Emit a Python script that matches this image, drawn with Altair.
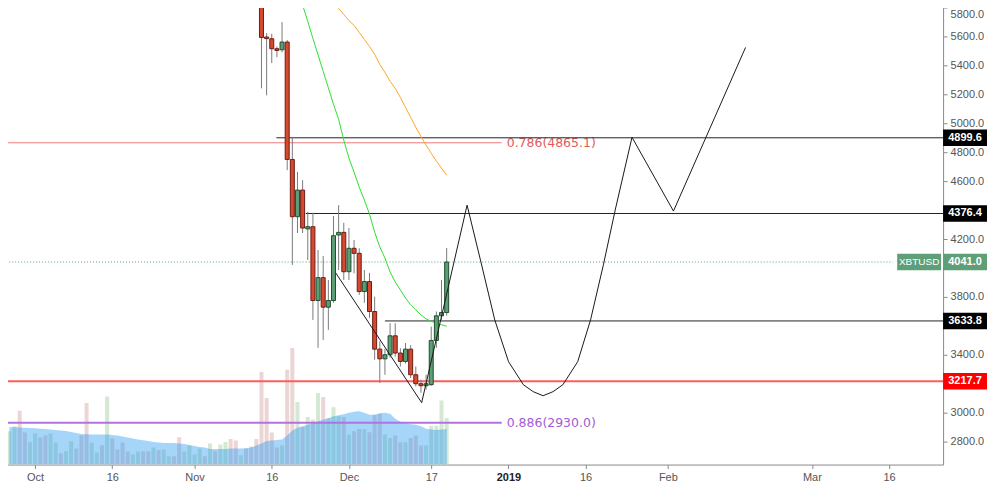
import altair as alt
import pandas as pd

BASE = pd.Timestamp("2018-10-01")


def to_days(dates):
    return [(pd.Timestamp(d) - BASE).days for d in dates]


# ---------------- data ----------------
# Daily candles XBTUSD, 14 Nov - 20 Dec 2018
candle_dates = pd.date_range("2018-11-14", "2018-12-20", freq="D").strftime("%Y-%m-%d").tolist()
open_ = [6340, 5596, 5584, 5515, 5508, 5561, 4750, 4354, 4538, 4270, 4285, 3775, 3933, 3729, 3775, 4228, 4246,
         3974, 4136, 4101, 3837, 3906, 3699, 3439, 3372, 3400, 3531, 3412, 3354, 3439, 3262, 3200, 3186, 3193, 3499, 3669, 3692]
high = [6390, 5623, 5619, 5530, 5699, 5575, 4906, 4664, 4607, 4388, 4381, 4124, 4083, 3917, 4359, 4434, 4312,
        4276, 4193, 4136, 3986, 3966, 3802, 3492, 3441, 3618, 3618, 3446, 3481, 3467, 3319, 3228, 3262, 3595, 3699, 3917, 4138]
low = [5241, 5193, 5416, 5457, 5490, 4676, 4021, 4241, 4241, 4055, 3641, 3448, 3503, 3572, 3760, 3986, 3917,
       3917, 3963, 3814, 3759, 3655, 3366, 3205, 3262, 3380, 3388, 3319, 3340, 3239, 3181, 3138, 3160, 3186, 3448, 3641, 3670]
close = [5593, 5585, 5515, 5503, 5561, 4750, 4354, 4538, 4276, 4285, 3775, 3933, 3729, 3775, 4223, 4246, 3974,
         4136, 4101, 3837, 3906, 3699, 3439, 3372, 3400, 3531, 3412, 3354, 3439, 3262, 3200, 3186, 3200, 3499, 3669, 3692, 4041]

# Volume, 26 Sep - 20 Dec 2018 (relative units)
vol_dates = pd.date_range("2018-09-26", "2018-12-20", freq="D").strftime("%Y-%m-%d").tolist()
volume = [33.3, 38.3, 54, 32, 22.3,
          31, 27, 29, 31, 22, 11.3, 13.3, 23.3, 16, 29,
          61.7, 22, 12, 19.3, 68.3, 26, 15, 22, 13, 10,
          13, 13.3, 13.3, 17, 14.3, 15, 8, 8.3, 27.3, 13, 19,
          10, 16, 8.3, 21, 13.3, 20, 22.7, 25.7, 24, 9.3,
          16, 18, 25.7, 92.7, 66.7, 32, 17, 19, 95, 116.7,
          62.7, 37.7, 47.7, 45, 71.7, 67.7, 46.7, 57.3, 48.3, 47.7,
          30, 33.3, 35.7, 35.7, 32.3, 50, 51, 30, 26.7, 29,
          22.3, 22.3, 26.7, 29, 19, 19, 39, 39, 64.3, 46.7]
volume_dir = list("UUDDU"
                  + "UDDUUDUUDD" + "DUUDUDDDDU" + "UDDUDUUDDUU"
                  + "UUDUDUUDDU" + "DDDDDDDUDD" + "UDUDUDUUUD"
                  + "UDDUDDDUUD" + "DUDDDUUUUU")
volume_ma = [37.7, 37.5, 37.2, 37, 36.7,
             36.4, 36, 35.5, 35, 34.5, 34, 33.7, 32.5, 31.5, 30.5,
             30.3, 30, 30, 30, 30, 29.5, 29, 28, 27, 26,
             25, 24.3, 23.5, 22.7, 22, 21.7, 21.5, 21.5, 21, 20.5,
             19.5, 18.5, 17.5, 17, 15.5, 15.5, 15.5, 15.7, 16, 16,
             16, 16.3, 17, 19, 21, 23.5, 24, 24.5, 25, 29,
             34, 37, 38.5, 40, 41.5, 43.3, 45, 46.5, 48.5, 49.5,
             50.5, 52, 53, 53.5, 52, 50, 50, 51.5, 52, 51,
             46, 43, 41.5, 40.5, 40, 38.5, 36, 35, 34.5, 35, 35.5]

# Moving averages
fast_ma_dates = pd.date_range("2018-11-21", "2018-12-20", freq="D").strftime("%Y-%m-%d").tolist()
fast_ma = [5931, 5817, 5703, 5586, 5472, 5359, 5245, 5131, 5028, 4883, 4759, 4662, 4559, 4469, 4372,
           4248, 4145, 4069, 3972, 3903, 3848, 3793, 3745, 3710, 3676, 3648, 3631, 3621, 3607, 3597]
slow_ma_dates = pd.date_range("2018-11-27", "2018-12-20", freq="D").strftime("%Y-%m-%d").tolist()
slow_ma = [5890, 5841, 5793, 5752, 5710, 5676, 5628, 5579, 5531, 5476, 5407, 5352, 5290, 5241, 5179,
           5110, 5041, 4972, 4910, 4848, 4793, 4738, 4690, 4641]

# Projection drawing (day offset from 1 Oct 2018, price)
proj_day = [58.45, 75.14, 83.97, 86.66, 89.35, 92.03, 94.91, 96.83, 98.75, 100.67, 102.59, 105.47,
            107.97, 110.46, 112.76, 116.03, 124.09, 138.10]
proj_price = [3965, 3069, 4434, 4041, 3641, 3352, 3193, 3145, 3117, 3145, 3193, 3352,
              3641, 4021, 4400, 4903, 4393, 5524]

# Horizontal levels
hline_price = [4899.6, 4376.4, 3633.8]
hline_start = [46.9, 52.6, 68.0]
fib_price = [4865.1, 2930.0]
fib_label = ["0.786(4865.1)", "0.886(2930.0)"]
fib_end = 90.7
support_price = 3217.7
last_price = 4041.0

# Right-axis price tags
tag_price = [4899.6, 4376.4, 4041.0, 3633.8, 3217.7]
tag_color = ["#000000", "#000000", "#5e9f78", "#000000", "#ff0000"]

# X-axis ticks
tick_dates = ["2018-10-01", "2018-10-16", "2018-11-01", "2018-11-16", "2018-12-01", "2018-12-17",
              "2019-01-01", "2019-01-16", "2019-02-01", "2019-03-01", "2019-03-16"]
tick_labels = ["Oct", "16", "Nov", "16", "Dec", "17", "2019", "16", "Feb", "Mar", "16"]
price_ticks = list(range(2800, 6000, 200))
hidden_price_ticks = [4400, 4000, 3600, 3200]   # covered by the price tags

# ---------------- frames ----------------
candles = pd.DataFrame({"day": to_days(candle_dates), "open": open_, "high": high, "low": low, "close": close})
vol_df = pd.DataFrame({"day": to_days(vol_dates), "vol": volume, "dir": volume_dir, "vma": volume_ma})
fast_df = pd.DataFrame({"day": to_days(fast_ma_dates), "ma": fast_ma})
slow_df = pd.DataFrame({"day": to_days(slow_ma_dates), "ma": slow_ma})
proj_df = pd.DataFrame({"day": proj_day, "price": proj_price, "i": list(range(len(proj_day)))})

X_LO, X_HI = -5.854, 175.53
Y_LO, Y_HI = 2641.4, 5848.3
tick_days = to_days(tick_dates)

label_expr = "''"
for v, lab in reversed(list(zip(tick_days, tick_labels))):
    label_expr = f"datum.value == {v} ? '{lab}' : {label_expr}"
year_day = tick_days[tick_labels.index("2019")]

hidden_test = " || ".join(f"datum.value == {v}" for v in hidden_price_ticks)
y_label_expr = f"({hidden_test}) ? '' : format(datum.value, '.1f')"
top_tick = max(price_ticks)

xscale = alt.Scale(domain=[X_LO, X_HI], nice=False, zero=False)
yscale = alt.Scale(domain=[Y_LO, Y_HI], nice=False, zero=False)
vscale = alt.Scale(domain=[0, 465], nice=False, zero=True)

xaxis = alt.Axis(values=tick_days, labelExpr=label_expr, title=None, grid=False, tickSize=4,
                 labelPadding=3, labelOverlap=False, labelFontSize=11, labelFont="Liberation Sans",
                 labelColor={"condition": {"test": f"datum.value == {year_day}", "value": "#222222"}, "value": "#555555"},
                 labelFontWeight={"condition": {"test": f"datum.value == {year_day}", "value": "bold"}, "value": "normal"},
                 domainColor="#8a8a8a", tickColor="#8a8a8a")
yaxis = alt.Axis(orient="right", values=price_ticks, labelExpr=y_label_expr, title=None, grid=False, tickSize=4,
                 labelPadding=3, labelFontSize=11, labelFont="Liberation Sans", labelColor="#555555",
                 labelBaseline={"condition": {"test": f"datum.value == {top_tick}", "value": "top"}, "value": "middle"},
                 labelOffset={"condition": {"test": f"datum.value == {top_tick}", "value": 1}, "value": 0},
                 domainColor="#8a8a8a", tickColor="#8a8a8a", labelOverlap=False)


def X(field):
    return alt.X(field, type="quantitative", scale=xscale, axis=xaxis)


def Y(field):
    return alt.Y(field, type="quantitative", scale=yscale, axis=yaxis)


# ---------------- volume pane ----------------
vol_bars = alt.Chart(vol_df).mark_bar(size=4, clip=True).encode(
    x=X("day"),
    y=alt.Y("vol:Q", scale=vscale, axis=None),
    color=alt.condition("datum.dir == 'U'", alt.value("#d3e9d3"), alt.value("#ecd5d5")),
)
vol_ma = alt.Chart(vol_df).mark_area(color="#2196f3", opacity=0.4, clip=True).encode(
    x=X("day"),
    y=alt.Y("vma:Q", scale=vscale, axis=None),
)
volume_layer = alt.layer(vol_bars, vol_ma)

# ---------------- price pane ----------------
layers = []

fib_df = pd.DataFrame({"price": fib_price, "label": fib_label, "x0": [X_LO - 5] * 2, "x1": [fib_end] * 2})
layers.append(alt.Chart(fib_df.iloc[[0]]).mark_rule(color="#f07b7b", strokeWidth=1, clip=True).encode(
    x=X("x0"), x2="x1", y=Y("price")))
layers.append(alt.Chart(fib_df.iloc[[1]]).mark_rule(color="#b072e0", strokeWidth=2, clip=True).encode(
    x=X("x0"), x2="x1", y=Y("price")))
layers.append(alt.Chart(fib_df.iloc[[0]]).mark_text(align="left", baseline="middle", dx=5, fontSize=12.5,
                                                    font="DejaVu Sans", color="#e25a5a").encode(
    x=X("x1"), y=Y("price"), text="label"))
layers.append(alt.Chart(fib_df.iloc[[1]]).mark_text(align="left", baseline="middle", dx=5, fontSize=12.5,
                                                    font="DejaVu Sans", color="#a35ad8").encode(
    x=X("x1"), y=Y("price"), text="label"))

sup_df = pd.DataFrame({"price": [support_price], "x0": [X_LO - 5], "x1": [X_HI + 5]})
layers.append(alt.Chart(sup_df).mark_rule(color="#ff5c5c", strokeWidth=2, clip=True).encode(
    x=X("x0"), x2="x1", y=Y("price")))

last_df = pd.DataFrame({"price": [last_price], "x0": [X_LO - 5], "x1": [166.7]})
layers.append(alt.Chart(last_df).mark_rule(color="#5e9f78", strokeWidth=1, strokeDash=[1, 2], clip=True).encode(
    x=X("x0"), x2="x1", y=Y("price")))

hl_df = pd.DataFrame({"price": hline_price, "x0": hline_start, "x1": [X_HI + 5] * 3})
layers.append(alt.Chart(hl_df).mark_rule(color="#222222", strokeWidth=1, clip=True).encode(
    x=X("x0"), x2="x1", y=Y("price")))

layers.append(alt.Chart(slow_df).mark_line(color="#ffa42b", strokeWidth=1, clip=True).encode(
    x=X("day"), y=Y("ma")))
layers.append(alt.Chart(fast_df).mark_line(color="#2ee02e", strokeWidth=1, clip=True).encode(
    x=X("day"), y=Y("ma")))

layers.append(alt.Chart(candles).mark_rule(color="#7a7a7a", strokeWidth=1, clip=True).encode(
    x=X("day"), y=Y("low"), y2="high"))
layers.append(alt.Chart(candles).mark_bar(size=4, strokeWidth=1, clip=True).encode(
    x=X("day"), y=Y("open"), y2="close",
    color=alt.condition("datum.close >= datum.open", alt.value("#5c9e75"), alt.value("#d4492f")),
    stroke=alt.condition("datum.close >= datum.open", alt.value("#1f4d2e"), alt.value("#6e1c12")),
))

layers.append(alt.Chart(proj_df).mark_line(color="#1a1a1a", strokeWidth=1, clip=True).encode(
    x=X("day"), y=Y("price"), order="i:Q"))

tag_df = pd.DataFrame({"price": tag_price, "col": tag_color, "txt": [f"{p:.1f}" for p in tag_price]})
layers.append(alt.Chart(tag_df).mark_rect().transform_calculate(
    lo="datum.price - 57", hi="datum.price + 57").encode(
    x=alt.value(945), x2=alt.value(989), y=Y("lo"), y2="hi",
    color=alt.Color("col:N", scale=None)))
layers.append(alt.Chart(tag_df).mark_text(color="white", fontWeight="bold", fontSize=11,
                                          font="Liberation Sans", align="center", baseline="middle").encode(
    x=alt.value(967), y=Y("price"), text="txt"))

sym_df = pd.DataFrame({"price": [last_price], "txt": ["XBTUSD"]})
layers.append(alt.Chart(sym_df).mark_rect(color="#5e9f78").transform_calculate(
    lo="datum.price - 57", hi="datum.price + 57").encode(
    x=alt.value(899), x2=alt.value(943), y=Y("lo"), y2="hi"))
layers.append(alt.Chart(sym_df).mark_text(color="white", fontSize=10, font="Liberation Sans",
                                          align="center", baseline="middle").encode(
    x=alt.value(921), y=Y("price"), text="txt"))

price_layer = alt.layer(*layers)

chart = alt.layer(volume_layer, price_layer).resolve_scale(y="independent").properties(
    width=945, height=465,
    padding={"left": -8, "top": -8, "right": 0, "bottom": 0},
    background="white",
).configure_view(strokeWidth=0)

chart.save("out.html", embed_options={"renderer": "svg", "actions": False})
